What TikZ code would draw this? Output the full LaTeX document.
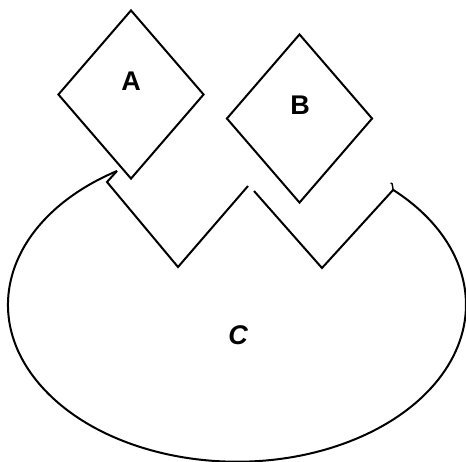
\documentclass[tikz,border=0pt]{standalone}
\usepackage{fontspec}
\setmainfont{Liberation Sans}
\usetikzlibrary{shapes.geometric}
\begin{document}
\begin{tikzpicture}[x=1pt,y=-1pt,line width=2pt,line join=miter,
  dia/.style={draw,shape=diamond,minimum width=146pt,minimum height=169pt,inner sep=0pt},
  lbl/.style={font=\fontsize{27}{30}\selectfont\bfseries}]
\useasboundingbox (0,0) rectangle (466,461);
\node[dia] (A) at (131,94.5) {};
\node[dia] (B) at (299.5,118.5) {};
\node[lbl] (la) at (131,81) {A};
\node[lbl] (lb) at (300,105) {B};
\draw (117,171) arc[start angle=238.4,end angle=-47,x radius=229,y radius=157]
  coordinate (cr) -- (322,268) -- (254,191);
\draw (248,186) -- (178,267) -- (107,182) -- (117,171);
\draw[line width=1.4pt] (cr) -- ++(-1,-6) -- ++(-1.5,-1);
\node[lbl,font=\fontsize{27}{30}\selectfont\bfseries\itshape] (C) at (238,335) {C};
\end{tikzpicture}
\end{document}
